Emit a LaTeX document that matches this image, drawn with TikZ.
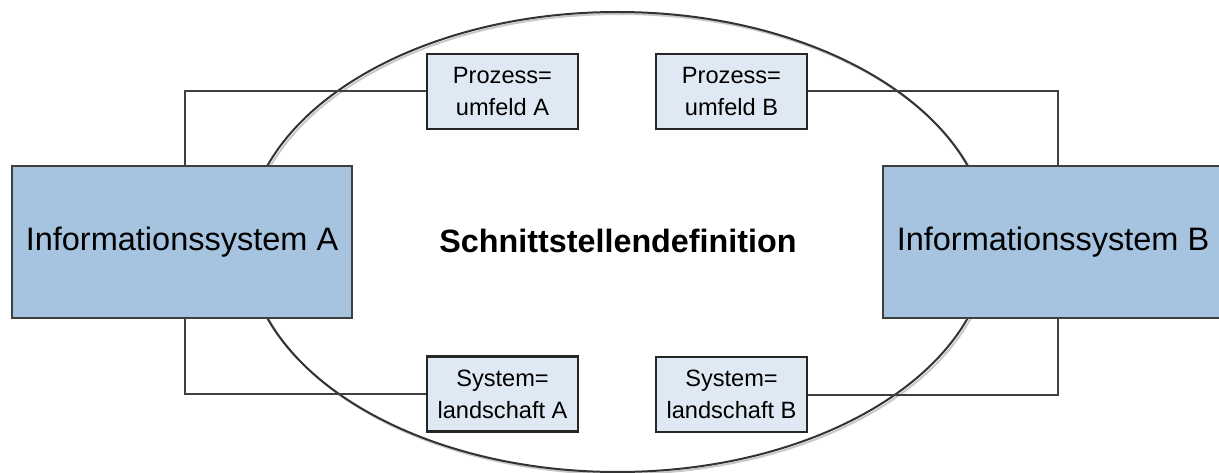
\documentclass[tikz,border=0pt]{standalone}
\usepackage{fontspec}
\setmainfont{Liberation Sans}
\definecolor{sysblue}{HTML}{A6C3DF}
\definecolor{paleblue}{HTML}{DFE9F3}
\definecolor{edgegray}{HTML}{3F3F3F}
\definecolor{shadowgray}{HTML}{C8C8C8}
\begin{document}
\begin{tikzpicture}[x=1pt,y=-1pt,
  bigbox/.style={draw=edgegray, line width=2pt, fill=sysblue, minimum width=340pt,
    minimum height=152pt, inner sep=0pt, font=\fontsize{32.5}{38}\selectfont},
  smallbox/.style={draw=black!85, line width=2.4pt, fill=paleblue, minimum width=151pt,
    minimum height=75pt, inner sep=0pt, align=center, font=\fontsize{23.6}{32}\selectfont},
  link/.style={draw=edgegray, line width=2pt}]
\useasboundingbox (0,0) rectangle (1219,473);

% interface area with its soft shadow
\draw[draw=shadowgray, line width=2pt] (619.5,244) ellipse [x radius=371, y radius=230];
\draw[draw=black!80, line width=2pt] (617.5,242) ellipse [x radius=371, y radius=230];
\node[font=\bfseries\fontsize{32.3}{38}\selectfont] (title) at (618,241) {Schnittstellendefinition};

% context boxes
\node[smallbox] (pa) at (502.5,91.5) {Prozess=\\umfeld A};
\node[smallbox] (pb) at (731.5,91.5) {Prozess=\\umfeld B};
\node[smallbox] (sa) at (502.5,394) {System=\\landschaft A};
\node[smallbox] (sb) at (731.5,394.5) {System=\\landschaft B};

% information systems
\node[bigbox] (isA) at (182,242) {Informationssystem A};
\node[bigbox] (isB) at (1053,242) {Informationssystem B};

% connectors
\draw[link] ([xshift=3pt]isA.north) |- (pa.west);
\draw[link] ([xshift=3pt]isA.south) |- (sa.west);
\draw[link] ([xshift=5pt]isB.north) |- (pb.east);
\draw[link] ([xshift=5pt]isB.south) |- (sb.east);
\end{tikzpicture}
\end{document}
